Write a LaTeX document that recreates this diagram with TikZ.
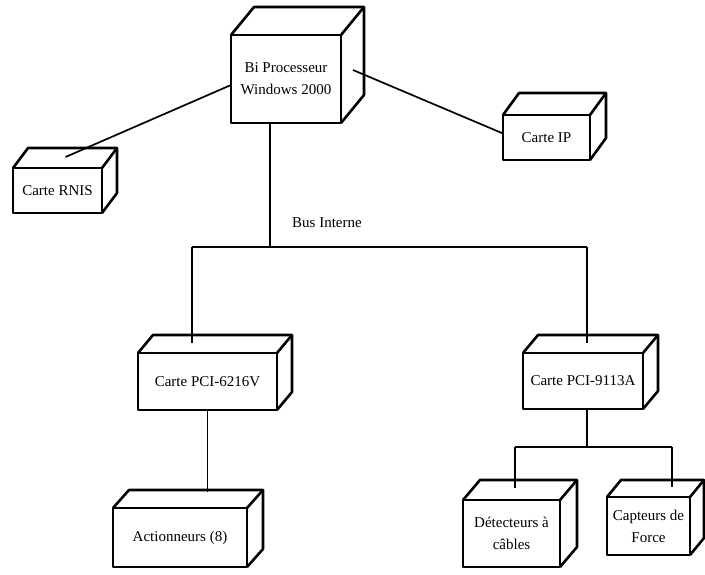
\documentclass[tikz,border=0pt]{standalone}
\usepackage{fontspec}
\setmainfont{Liberation Serif}
\usetikzlibrary{calc}

\begin{document}
\begin{tikzpicture}[x=1pt, y=-1pt,
        unit/.style={draw, line width=2.6pt, line join=round, inner sep=0pt, outer sep=0pt, align=center, font=\fontsize{15}{22}\selectfont},
        face/.style={line width=2.6pt, line join=round},
        link/.style={line width=1.7pt}]
        \useasboundingbox (0,0) rectangle (705,574);

        \coordinate (busC) at (270, 247);
        \coordinate (busL) at (192, 247);
        \coordinate (busR) at (587, 247);
        \coordinate (split) at (587, 447);
        \coordinate (splitL) at (515, 447);
        \coordinate (splitR) at (672, 447);

        \node[unit, minimum width=110pt, minimum height=88pt] (cpu) at (286, 79) {Bi Processeur\\Windows 2000};
        \node[unit, minimum width=89pt, minimum height=45pt] (rnis) at (57.5, 190.5) {Carte RNIS};
        \node[unit, minimum width=87pt, minimum height=45pt] (ip) at (546.5, 137.5) {Carte IP};
        \node[unit, minimum width=139pt, minimum height=57pt] (pci6216) at (207.5, 381.5) {Carte PCI-6216V};
        \node[unit, minimum width=120pt, minimum height=56pt] (pci9113) at (583, 381) {Carte PCI-9113A};
        \node[unit, minimum width=134pt, minimum height=59pt] (act) at (180, 537.5) {Actionneurs (8)};
        \node[unit, minimum width=97pt, minimum height=67pt] (detect) at (511.5, 533.5) {D\'etecteurs \`a\\c\^ables};
        \node[unit, minimum width=83pt, minimum height=58pt] (force) at (648.5, 526) {Capteurs de\\Force};
        \node[font=\fontsize{15}{22}\selectfont] (buslabel) at (327, 223) {Bus Interne};

        % top and right faces
        \foreach \n/\sx/\sy in {cpu/23/28, rnis/15/20, ip/16/22, pci6216/15/18, pci9113/15/18, act/16/18, detect/17/20, force/14/17} {
            \draw[face] (\n.north west) -- ++(\sx,-\sy) -- ($(\n.north east)+(\sx,-\sy)$) -- ($(\n.south east)+(\sx,-\sy)$) -- (\n.south east);
            \draw[face] (\n.north east) -- ++(\sx,-\sy);
        }

        \draw[link] ($(cpu.west)+(0,6)$) -- ($(rnis.north)+(8,-11)$);
        \draw[link] ($(cpu.east)+(12,-9)$) -- ($(ip.west)+(0,-4)$);
        \draw[link] (cpu.south -| busC) -- (busC);
        \draw[link] (busL) -- (busR);
        \draw[link] (busL) -- ($(busL |- pci6216.north)+(0,-10)$);
        \draw[link] (busR) -- ($(busR |- pci9113.north)+(0,-10)$);
        \draw[link] (pci6216.south) -- ($(pci6216.south |- act.north)+(0,-16)$);
        \draw[link] (pci9113.south -| split) -- (split);
        \draw[link] (splitL) -- (splitR);
        \draw[link] (splitL) -- ($(splitL |- detect.north)+(0,-12)$);
        \draw[link] (splitR) -- ($(splitR |- force.north)+(0,-10)$);
    \end{tikzpicture}
\end{document}
